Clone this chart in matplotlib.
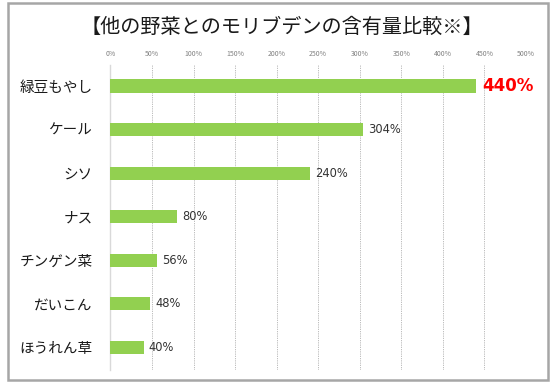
import matplotlib.pyplot as plt
from matplotlib.patches import Rectangle

plt.rcParams['font.family'] = ['Noto Sans CJK JP', 'DejaVu Sans']

# data
vegetables = ['緑豆もやし', 'ケール', 'シソ', 'ナス', 'チンゲン菜', 'だいこん', 'ほうれん草']
ratio_pct = [440, 304, 240, 80, 56, 48, 40]
x_ticks = [0, 50, 100, 150, 200, 250, 300, 350, 400, 450, 500]
title = '【他の野菜とのモリブデンの含有量比較※】'

bar_green = '#92D050'

fig = plt.figure(figsize=(5.51, 3.83), dpi=100)
ax = fig.add_axes([0.2005, 0.034, 0.754, 0.796])

ypos = list(range(len(vegetables)))
ax.barh(ypos, ratio_pct, height=0.3, color=bar_green, zorder=3)

# value labels
for i, v in enumerate(ratio_pct):
    if i == 0:
        ax.text(v + 7, i, f'{v}%', va='center', ha='left', fontsize=12,
                fontweight='bold', color='#FF0000', family='DejaVu Sans')
    else:
        ax.text(v + 6, i, f'{v}%', va='center', ha='left', fontsize=8.3,
                color='#333333', family='DejaVu Sans')

ax.set_xlim(0, 500)
ax.set_ylim(6.52, -0.48)
ax.set_xticks(x_ticks)
ax.set_xticklabels([f'{t}%' for t in x_ticks])
ax.xaxis.tick_top()
ax.tick_params(axis='x', length=0, pad=5, labelsize=5, labelcolor='#808080')
ax.set_yticks(ypos)
ax.set_yticklabels(vegetables, fontsize=10.5, color='#1a1a1a')
ax.tick_params(axis='y', length=0, pad=13)

ax.grid(axis='x', color='#b3b3b3', linestyle=(0, (1.5, 1.2)), linewidth=0.6, zorder=0)
ax.xaxis.get_gridlines()[0].set_visible(False)
for s in ['top', 'right', 'bottom']:
    ax.spines[s].set_visible(False)
ax.spines['left'].set_color('#d9d9d9')
ax.spines['left'].set_linewidth(1.0)

fig.text(0.512, 0.928, title, ha='center', va='center', fontsize=14.5, color='#1a1a1a')

# outer frame
fig.patches.append(Rectangle((8 / 551, 3 / 383), 540 / 551, 377 / 383,
                             transform=fig.transFigure, fill=False,
                             edgecolor='#a6a6a6', linewidth=1.8))

fig.savefig('out.png', dpi=100)
